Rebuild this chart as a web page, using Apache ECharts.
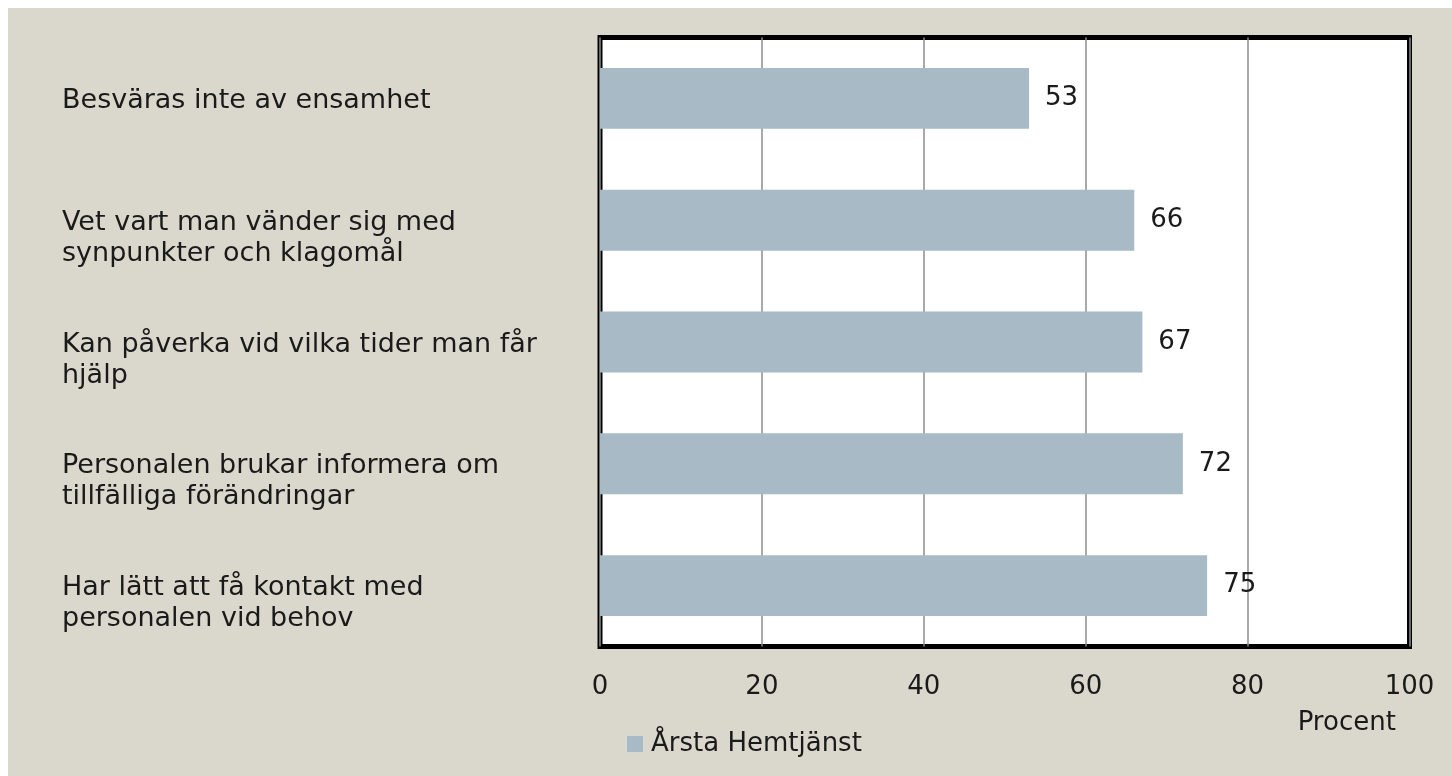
<!DOCTYPE html>
<html>
<head>
<meta charset="utf-8">
<script src="https://cdn.jsdelivr.net/npm/echarts@6/dist/echarts.min.js"></script>
<style>
html,body{margin:0;padding:0;background:#ffffff;}
#wrap{position:absolute;left:8px;top:8px;width:1444px;height:768px;background:#DAD8CC;}
#chart{width:1444px;height:768px;}
</style>
</head>
<body>
<div id="wrap"><div id="chart"></div></div>
<script>
const categories = [
  "Besväras inte av ensamhet",
  "Vet vart man vänder sig med\nsynpunkter och klagomål",
  "Kan påverka vid vilka tider man får\nhjälp",
  "Personalen brukar informera om\ntillfälliga förändringar",
  "Har lätt att få kontakt med\npersonalen vid behov"
];
const seriesName = "Årsta Hemtjänst";
const values = [53, 66, 67, 72, 75];
const xTicks = [0, 20, 40, 60, 80, 100];
const axisTitle = "Procent";

const FONT = "DejaVu Sans";
const chart = echarts.init(document.getElementById('chart'), null, {renderer:'canvas'});
chart.setOption({
  animation: false,
  backgroundColor: 'transparent',
  textStyle: {fontFamily: FONT},
  grid: {
    left: 592, right: 42.5, top: 29.5, bottom: 129.5,
    containLabel: false, outerBoundsMode: 'none',
    show: true, backgroundColor: '#ffffff', borderColor: '#000000', borderWidth: 5
  },
  legend: {
    data: [seriesName],
    left: 619, top: 723, padding: 0,
    itemWidth: 16, itemHeight: 16, itemGap: 10,
    icon: 'rect',
    textStyle: {fontFamily: FONT, fontSize: 26, color: '#1a1a1a', padding:[0,0,0,3]}
  },
  xAxis: {
    type: 'value',
    min: xTicks[0], max: xTicks[xTicks.length-1], interval: xTicks[1]-xTicks[0],
    axisLine: {show: false}, axisTick: {show: false},
    splitLine: {show: true, lineStyle: {color: '#8c8c8c', width: 1.5}},
    axisLabel: {fontFamily: FONT, fontSize: 26, color: '#1a1a1a', margin: 28},
    name: axisTitle, nameLocation: 'middle', nameGap: 64,
    nameTextStyle: {fontFamily: FONT, fontSize: 26, color: '#1a1a1a', padding: [0,0,0,684]}
  },
  yAxis: {
    type: 'category',
    inverse: true,
    data: categories,
    axisLine: {show: false}, axisTick: {show: false}, splitLine: {show: false},
    axisLabel: {
      fontFamily: FONT, fontSize: 27, lineHeight: 31, color: '#1a1a1a', align: 'left', margin: 538,
      formatter: function (v) {
        const lines = v.split('\n');
        const sp = lines.length > 1 ? 's2' : 's1';
        return '{' + sp + '| }\n' + lines.map(l => '{t|' + l + '}').join('\n');
      },
      rich: {
        s1: {fontSize: 1, lineHeight: 6},
        s2: {fontSize: 1, lineHeight: 36},
        t: {fontFamily: FONT, fontSize: 27, lineHeight: 31, color: '#1a1a1a'}
      }
    }
  },
  series: [{
    name: seriesName,
    type: 'bar',
    data: values,
    barCategoryGap: '50%',
    itemStyle: {color: '#A7BAC5'},
    label: {show: true, position: 'right', distance: 16, fontFamily: FONT, fontSize: 26, color: '#1a1a1a'}
  }]
});
</script>
</body>
</html>
